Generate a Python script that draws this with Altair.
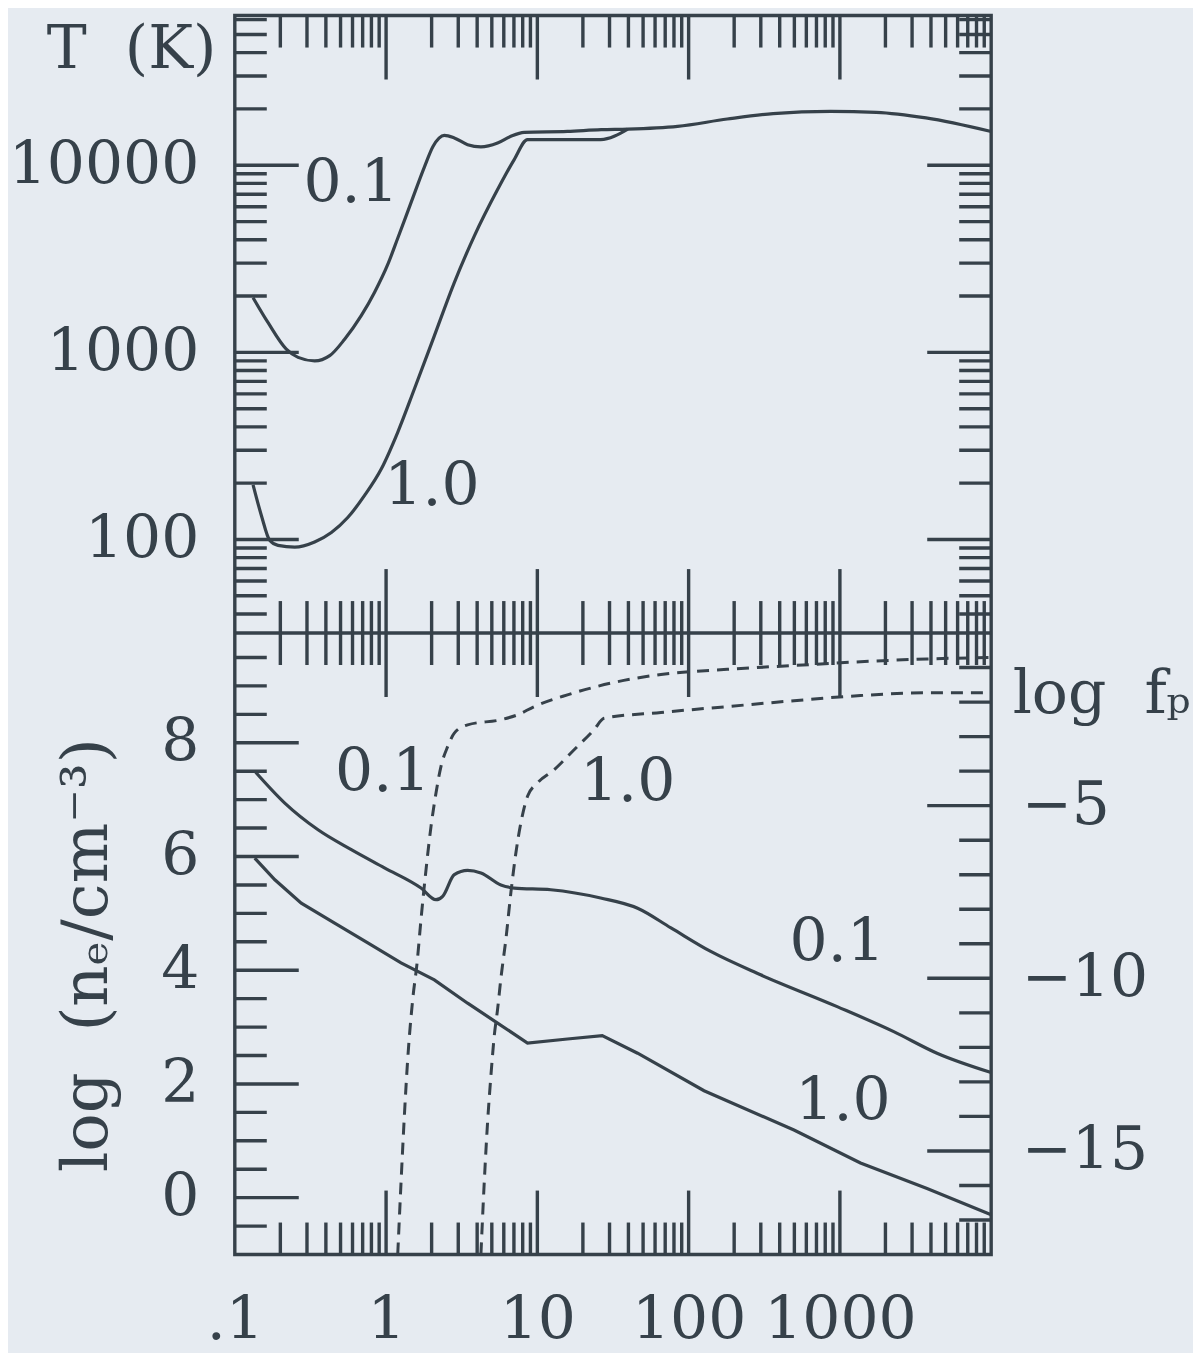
import json
import altair as alt
import pandas as pd

# ---------------- values ----------------
# upper panel : temperature T (K) of the two models "0.1" and "1.0"
t01_x = [0.132, 0.166, 0.219, 0.262, 0.337, 0.424, 0.532, 0.685, 0.838, 1.026, 1.194, 1.462,
         1.791, 2.042, 2.239, 2.427, 2.825, 3.459, 4.236, 5.458, 6.683, 8.185, 15.8, 26.4, 39.6,
         84.5, 180, 362, 867, 1742, 3707, 10000]
t01_T = [1960, 1440, 1040, 940, 900, 960, 1175, 1570, 2090, 2950, 4070, 6310,
         9770, 12590, 13960, 14450, 14000, 12880, 12530, 13150, 14290, 15000, 15170, 15500, 15600,
         16140, 17660, 18880, 19410, 19190, 17910, 15150]
t10_x = [0.132, 0.150, 0.170, 0.193, 0.249, 0.337, 0.435, 0.558, 0.721, 0.929, 1.194, 1.538,
         2.084, 2.825, 3.828, 5.458, 7.031, 8.610, 26.2, 39.6]
t10_T = [196, 134, 99, 93, 91, 97, 109, 131, 172, 238, 374, 637,
         1225, 2360, 4180, 7410, 10720, 13710, 13710, 15600]

# lower panel : log n_e (solid, left axis)
ne01_x = [0.1355, 0.214, 0.355, 0.589, 0.975, 1.702, 2.138, 2.366, 2.825, 3.459, 4.236, 5.741,
          7.031, 12.27, 26.2, 46.0, 76.4, 140, 299, 959, 2270, 4385, 10000]
ne01_v = [7.50, 6.94, 6.47, 6.12, 5.80, 5.445, 5.24, 5.30, 5.68, 5.755, 5.71, 5.50,
          5.445, 5.415, 5.27, 5.09, 4.744, 4.33, 3.92, 3.36, 2.92, 2.54, 2.20]
ne10_x = [0.1355, 0.184, 0.275, 0.457, 0.757, 1.256, 2.084, 3.459, 5.458, 8.610, 15.81, 26.85,
          46.0, 126.5, 497, 1368, 3767, 10000]
ne10_v = [5.97, 5.59, 5.18, 4.83, 4.48, 4.13, 3.83, 3.42, 3.07, 2.72, 2.79, 2.85,
          2.54, 1.88, 1.19, 0.61, 0.16, -0.30]

# lower panel : log f_p (dashed, right axis)
fp01_x = [1.194, 1.256, 1.321, 1.390, 1.500, 1.603, 1.702, 1.837, 1.982, 2.138, 2.307, 2.553,
          2.825, 3.459, 5.741, 7.396, 9.528, 15.81, 30.7, 65.6, 180, 497, 1368, 3767, 10000]
fp01_v = [-18.0, -15.9, -13.98, -12.34, -10.61, -9.55, -8.29, -6.85, -5.60, -4.63, -3.86, -3.29,
          -2.90, -2.66, -2.51, -2.37, -2.13, -1.79, -1.45, -1.20, -1.05, -0.94, -0.83, -0.75, -0.71]
fp10_x = [4.236, 4.457, 4.688, 4.932, 5.188, 5.458, 5.741, 6.194, 6.683, 7.211, 7.780, 8.610,
          10.02, 12.91, 17.50, 23.7, 27.6, 65.6, 180, 497, 1368, 3767, 10000]
fp10_v = [-18.0, -15.9, -14.17, -12.82, -11.67, -10.9, -10.0, -8.87, -7.52, -6.37, -5.50, -4.73,
          -4.34, -3.96, -3.38, -2.80, -2.47, -2.30, -2.13, -1.96, -1.81, -1.73, -1.73]

# curve labels
top_lbl_t = ["0.1", "1.0"]
top_lbl_x = [0.587, 2.01]
top_lbl_y = [7890, 190]
bot_lbl_t = ["0.1", "1.0", "0.1", "1.0"]
bot_lbl_x = [0.95, 39.5, 959, 1047]
bot_lbl_y = [7.47, 7.30, 4.47, 1.68]

# axes
x_dom = [0.1, 10000]
T_dom = [31.62, 63096]
ne_dom = [-1, 9.93]
fp_dom = [-18, 0]
x_label_vals = [0.1, 1, 10, 100, 1000]
x_label_text = [".1", "1", "10", "100", "1000"]
x_major = [1, 10, 100, 1000]
x_minor = [k * d for d in [0.1, 1, 10, 100, 1000] for k in range(2, 10)]
T_major = [100, 1000, 10000]
T_minor = [40, 50, 60, 70, 80, 90] + [k * d for d in [100, 1000] for k in range(2, 10)] + \
          [20000, 30000, 40000, 50000, 60000]
ne_major = [0, 2, 4, 6, 8]
ne_minor = [-0.5, 0.5, 1, 1.5, 2.5, 3, 3.5, 4.5, 5, 5.5, 6.5, 7, 7.5, 8.5, 9, 9.5]
fp_major = [-5, -10, -15]
fp_minor = [-17, -16, -14, -13, -12, -11, -9, -8, -7, -6, -4, -3, -2, -1]

# ---------------- styling ----------------
FONT = "DejaVu Serif"
INK = "#36414a"
BG = "#e6ebf1"
W = 757            # plot width
H_TOP = 618        # upper panel height
H = 1240           # both panels
L_MAJ, L_MIN = 64, 32
FS = 60
LW = 3.2           # curve width
TW = 3.4           # tick width

xs = alt.Scale(type="log", domain=x_dom, nice=False)
Ts = alt.Scale(type="log", domain=T_dom, nice=False, range=[H_TOP, 0])
nes = alt.Scale(type="linear", domain=ne_dom, nice=False, zero=False, range=[H, H_TOP])
fps = alt.Scale(type="linear", domain=fp_dom, nice=False, zero=False, range=[H, H_TOP])

axis_common = dict(ticks=False, domain=False, grid=False, labelFont=FONT,
                   labelFontSize=FS, labelColor=INK, labelOverlap=False, labelLimit=0,
                   titleFont=FONT, titleFontWeight="normal", titleColor=INK,
                   titleLimit=0)

label_expr = f"{json.dumps(x_label_text)}[indexof({json.dumps(x_label_vals)}, datum.value)]"
x_axis = alt.Axis(orient="bottom", values=x_label_vals, labelExpr=label_expr, labelFlush=False,
                  labelPadding=37, title=None, **axis_common)
T_axis = alt.Axis(orient="left", values=T_major, format="d", labelPadding=36,
                  title="T\u00a0\u00a0(K)", titleFontSize=FS, titleAngle=0, titleAlign="right",
                  titleBaseline="alphabetic", titleX=-19, titleY=52, **axis_common)
ne_axis = alt.Axis(orient="left", values=ne_major, format="d", labelPadding=36,
                   title="log\u00a0\u00a0(n\u2091/cm\u207b\u00b3)", titleFontSize=64,
                   titleAngle=270, titleAlign="center", titleBaseline="alphabetic",
                   titleX=-128, titleY=H_TOP + 322, **axis_common)
fp_axis = alt.Axis(orient="right", values=fp_major, format="d", labelPadding=30,
                   labelAlign="left", title="log\u00a0\u00a0f\u209a", titleFontSize=FS,
                   titleAngle=0, titleAlign="left", titleBaseline="alphabetic", titleX=21,
                   titleY=H_TOP + 80, **axis_common)

X = dict(scale=xs, axis=x_axis)


def xticks(vals, length, y0, down):
    df = pd.DataFrame({"v": vals})
    y1 = y0 + length if down else y0 - length
    return alt.Chart(df).mark_rule(color=INK, strokeWidth=TW).encode(
        x=alt.X("v:Q", **X), y=alt.value(y0), y2=alt.value(y1))


def yticks(vals, length, scale, axis, left):
    df = pd.DataFrame({"v": vals})
    if left:
        xx = dict(x=alt.value(0), x2=alt.value(length))
    else:
        xx = dict(x=alt.value(W), x2=alt.value(W - length))
    return alt.Chart(df).mark_rule(color=INK, strokeWidth=TW).encode(
        y=alt.Y("v:Q", scale=scale, axis=axis), **xx)


def curve_df(pairs):
    rows = []
    for name, xv, yv in pairs:
        for i, (a, b) in enumerate(zip(xv, yv)):
            rows.append({"series": name, "i": i, "x": a, "v": b})
    return pd.DataFrame(rows)


def labels(t, xv, yv, scale, axis):
    return alt.Chart(pd.DataFrame({"t": t, "x": xv, "v": yv})).mark_text(
        font=FONT, fontSize=FS, color=INK, align="center", baseline="middle").encode(
        x=alt.X("x:Q", **X), y=alt.Y("v:Q", scale=scale, axis=axis), text="t:N")


# ---------------- lower panel: n_e ----------------
ne_lines = alt.Chart(curve_df([("0.1", ne01_x, ne01_v)])).mark_line(
    color=INK, strokeWidth=LW, interpolate="monotone").encode(
    x=alt.X("x:Q", **X), y=alt.Y("v:Q", scale=nes, axis=ne_axis), order="i:Q")
ne1_lines = alt.Chart(curve_df([("1.0", ne10_x, ne10_v)])).mark_line(
    color=INK, strokeWidth=LW).encode(
    x=alt.X("x:Q", **X), y=alt.Y("v:Q", scale=nes, axis=ne_axis), order="i:Q")
ne_group = alt.layer(
    ne_lines, ne1_lines, labels(bot_lbl_t, bot_lbl_x, bot_lbl_y, nes, ne_axis),
    yticks(ne_major, L_MAJ, nes, ne_axis, True), yticks(ne_minor, L_MIN, nes, ne_axis, True))

# ---------------- upper panel: T ----------------
t_lines = alt.Chart(curve_df([("0.1", t01_x, t01_T), ("1.0", t10_x, t10_T)])).mark_line(
    color=INK, strokeWidth=LW, interpolate="monotone").encode(
    x=alt.X("x:Q", **X), y=alt.Y("v:Q", scale=Ts, axis=T_axis),
    detail="series:N", order="i:Q")
t_group = alt.layer(
    t_lines, labels(top_lbl_t, top_lbl_x, top_lbl_y, Ts, T_axis),
    yticks(T_major, L_MAJ, Ts, T_axis, True), yticks(T_minor, L_MIN, Ts, T_axis, True),
    yticks(T_major, L_MAJ, Ts, T_axis, False), yticks(T_minor, L_MIN, Ts, T_axis, False))

# ---------------- lower panel: f_p ----------------
fp_lines = alt.Chart(curve_df([("0.1", fp01_x, fp01_v), ("1.0", fp10_x, fp10_v)])).mark_line(
    color=INK, strokeWidth=3.0, strokeDash=[12, 8], interpolate="monotone").encode(
    x=alt.X("x:Q", **X), y=alt.Y("v:Q", scale=fps, axis=fp_axis),
    detail="series:N", order="i:Q")
fp_group = alt.layer(
    fp_lines,
    yticks(fp_major, L_MAJ, fps, fp_axis, False), yticks(fp_minor, L_MIN, fps, fp_axis, False))

# panel divider
midline = alt.Chart(pd.DataFrame({"k": [0]})).mark_rule(color=INK, strokeWidth=TW).encode(
    x=alt.value(0), x2=alt.value(W), y=alt.value(H_TOP))

chart = alt.layer(
    ne_group, t_group, fp_group,
    xticks(x_major, L_MAJ, 0, True), xticks(x_minor, L_MIN, 0, True),
    xticks(x_major, L_MAJ, H_TOP, False), xticks(x_minor, L_MIN, H_TOP, False),
    xticks(x_major, L_MAJ, H_TOP, True), xticks(x_minor, L_MIN, H_TOP, True),
    xticks(x_major, L_MAJ, H, False), xticks(x_minor, L_MIN, H, False),
    midline,
).resolve_scale(y="independent").properties(
    width=W, height=H,
    padding={"left": 0, "top": 5, "right": 2, "bottom": 2}
).configure(background=BG).configure_view(stroke=INK, strokeWidth=TW)

chart.save("out.html", embed_options={"renderer": "svg", "actions": False})
